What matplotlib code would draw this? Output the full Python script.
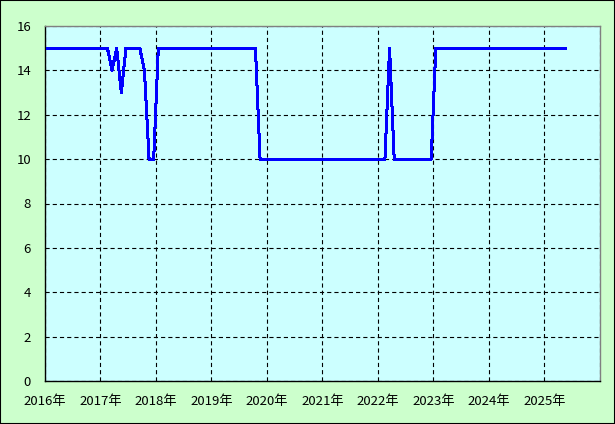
import matplotlib
matplotlib.use("Agg")
from matplotlib import pyplot as plt
from matplotlib.patches import Rectangle
import numpy as np

plt.rcParams['font.family'] = ['Noto Sans CJK JP', 'DejaVu Sans']
plt.rcParams['lines.scale_dashes'] = False

# 月次データ 2016年1月〜2025年5月
start_year = 2016
values = (
    [15] * 13 +             # 2016-01 .. 2017-01
    [15, 14, 15, 13, 15,    # 2017-02 .. 2017-06
     15, 15, 15, 14, 10, 10] +  # 2017-07 .. 2017-12
    [15] * 22 +             # 2018-01 .. 2019-10
    [10] * 28 +             # 2019-11 .. 2022-02
    [15] +                  # 2022-03
    [10] * 9 +              # 2022-04 .. 2022-12
    [15] * 29               # 2023-01 .. 2025-05
)
years = list(range(2016, 2026))
year_labels = [f"{y}年" for y in years]
y_ticks = list(range(0, 17, 2))

x = start_year + (np.arange(len(values)) + 0.5) / 12

fig = plt.figure(figsize=(6.15, 4.24), dpi=100)
fig.patch.set_facecolor('#CCFFCC')
fig.patches.append(Rectangle((0, 0), 1, 1, transform=fig.transFigure, fill=False,
                             edgecolor='black', linewidth=1.5))

ax = fig.add_axes([45 / 615, 43 / 424, 555 / 615, 355 / 424])
ax.set_facecolor('#CCFFFF')

ax.plot(x, values, color='#0000FF', linewidth=1.45, antialiased=False, zorder=3)

ax.set_xlim(2016, 2026)
ax.set_ylim(0, 16)
ax.set_xticks(years + [2026])
ax.set_xticklabels(year_labels + [""])
ax.set_yticks(y_ticks)
ax.tick_params(length=0, labelsize=9.5)
ax.tick_params(axis='x', pad=10)
ax.tick_params(axis='y', pad=10)

ax.grid(True, color='black', linestyle=(0, (3, 2.2)), linewidth=0.8)

for side in ['left', 'bottom']:
    ax.spines[side].set_color('black')
    ax.spines[side].set_linewidth(1)
for side in ['top', 'right']:
    ax.spines[side].set_color('#808080')
    ax.spines[side].set_linewidth(1)

fig.savefig("out.png", dpi=100, facecolor=fig.get_facecolor())
